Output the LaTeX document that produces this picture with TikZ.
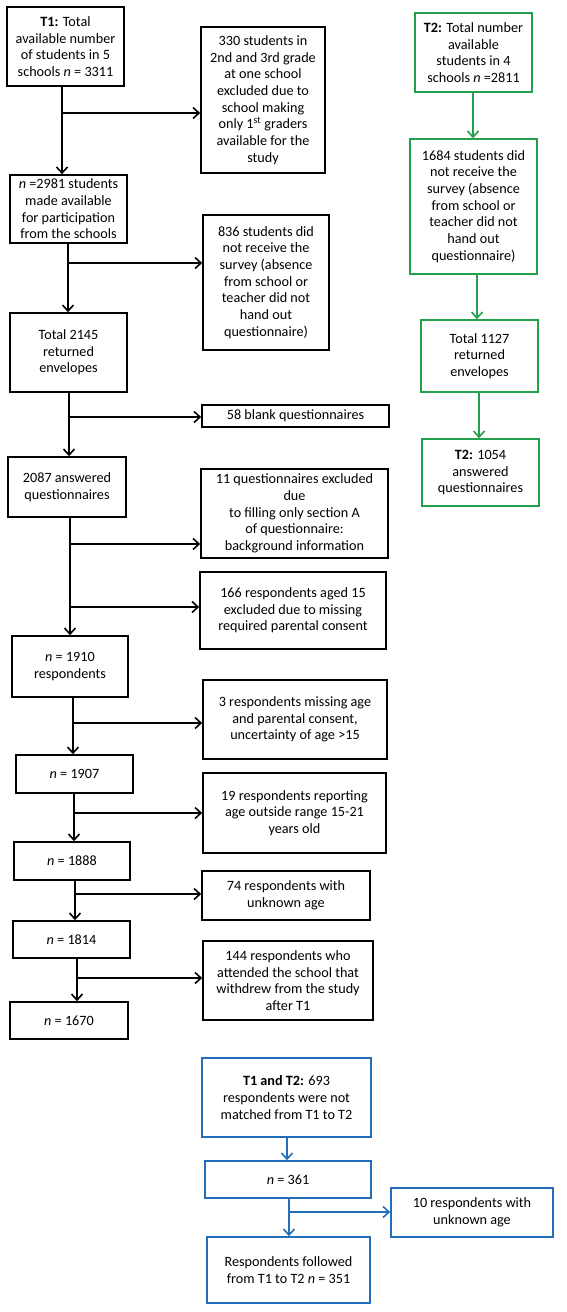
\documentclass[tikz,border=0pt]{standalone}
\usepackage{fontspec}
\setmainfont{Carlito}
\usetikzlibrary{arrows.meta}
\definecolor{flowgreen}{RGB}{35,160,75}
\definecolor{flowblue}{RGB}{35,110,185}
\tikzset{
    box/.style={draw,line width=1.6pt,align=center,inner sep=0pt,
        font=\fontsize{14.2}{16.7}\selectfont},
    gbox/.style={box,draw=flowgreen},
    bbox/.style={box,draw=flowblue},
    arr/.style={line width=1.6pt,-{Straight Barb[length=6pt,width=11pt]}},
    garr/.style={arr,draw=flowgreen},
    barr/.style={arr,draw=flowblue}
}

\begin{document}
\begin{tikzpicture}[x=1pt,y=-1pt]
\useasboundingbox (0,0) rectangle (567,1312);
% T1 column
\node[box,minimum width=117pt,minimum height=79pt] (t1) at (65.5,46.5) {\textbf{T1:} Total\\available number\\of students in 5\\schools \textit{n} = 3311};
\node[box,minimum width=117pt,minimum height=68pt] (avail) at (68.5,209) {\textit{n} =2981 students\\made available\\for participation\\from the schools};
\node[box,minimum width=117pt,minimum height=79pt] (env) at (68.5,352.5) {Total 2145\\returned\\envelopes};
\node[box,minimum width=118pt,minimum height=60pt] (ans) at (67,487) {2087 answered\\questionnaires};
\node[box,minimum width=116pt,minimum height=61pt] (r1910) at (70,666.5) {\textit{n} = 1910\\respondents};
\node[box,minimum width=117pt,minimum height=38pt] (r1907) at (74.5,774) {\textit{n} = 1907};
\node[box,minimum width=116pt,minimum height=38pt] (r1888) at (72,861) {\textit{n} = 1888};
\node[box,minimum width=117pt,minimum height=37pt] (r1814) at (71.5,939.5) {\textit{n} = 1814};
\node[box,minimum width=118pt,minimum height=37pt] (r1670) at (69,1020.5) {\textit{n} = 1670};
% exclusions
\node[box,minimum width=124pt,minimum height=146pt] (excl1) at (263,100) {330 students in\\2nd and 3rd grade\\at one school\\excluded due to\\school making\\only 1\textsuperscript{st} graders\\available for the\\study};
\node[box,minimum width=126pt,minimum height=135pt] (excl2) at (266,282.5) {836 students did\\not receive the\\survey (absence\\from school or\\teacher did not\\hand out\\questionnaire)};
\node[box,minimum width=187pt,minimum height=22pt] (excl3) at (295.5,416) {58 blank questionnaires};
\node[box,minimum width=187pt,minimum height=89pt] (excl4) at (294.5,513.5) {11 questionnaires excluded\\due\\to filling only section A\\of questionnaire:\\background information};
\node[box,minimum width=186pt,minimum height=77pt] (excl5) at (293,610.5) {166 respondents aged 15\\excluded due to missing\\required parental consent};
\node[box,minimum width=184pt,minimum height=79pt] (excl6) at (295,719.5) {3 respondents missing age\\and parental consent,\\uncertainty of age >15};
\node[box,minimum width=183pt,minimum height=80pt] (excl7) at (294.5,813) {19 respondents reporting\\age outside range 15-21\\years old};
\node[box,minimum width=168pt,minimum height=49pt] (excl8) at (286,895.5) {74 respondents with\\unknown age};
\node[box,minimum width=170pt,minimum height=79pt] (excl9) at (288,980.5) {144 respondents who\\attended the school that\\withdrew from the study\\after T1};
% T2 column
\node[gbox,minimum width=117pt,minimum height=79pt] (t2) at (473.5,52.5) {\textbf{T2:} Total number\\available\\students in 4\\schools \textit{n} =2811};
\node[gbox,minimum width=127pt,minimum height=135pt] (g1684) at (473.5,206.5) {1684 students did\\not receive the\\survey (absence\\from school or\\teacher did not\\hand out\\questionnaire)};
\node[gbox,minimum width=117pt,minimum height=72pt] (g1127) at (479.5,356) {Total 1127\\returned\\envelopes};
\node[gbox,minimum width=117pt,minimum height=67pt] (g1054) at (480.5,472.5) {\textbf{T2:} 1054\\answered\\questionnaires};
% matched
\node[bbox,minimum width=169pt,minimum height=79pt] (both) at (286.5,1097.5) {\textbf{T1 and T2:} 693\\respondents were not\\matched from T1 to T2};
\node[bbox,minimum width=166pt,minimum height=37pt] (n361) at (288,1179.5) {\textit{n} = 361};
\node[bbox,minimum width=162pt,minimum height=49pt] (excl10) at (472,1212.5) {10 respondents with\\unknown age};
\node[bbox,minimum width=163pt,minimum height=66pt] (follow) at (288.5,1270) {Respondents followed\\from T1 to T2 \textit{n} = 351};

% branch points
\coordinate (b1) at (62,113);
\coordinate (b2) at (68,263);
\coordinate (b3) at (69,417);
\coordinate (b4) at (70,544);
\coordinate (b5) at (71,607);
\coordinate (b6) at (73,723);
\coordinate (b7) at (74,813);
\coordinate (b8) at (75,894);
\coordinate (b9) at (77,978);
\coordinate (b10) at (289,1212);

% main flow
\draw[arr] (t1.south -| b1) -- (avail.north -| b1);
\draw[arr] (avail.south -| b2) -- (env.north -| b2);
\draw[arr] (env.south -| b3) -- (ans.north -| b3);
\draw[arr] (ans.south -| b4) -- (r1910.north -| b4);
\draw[arr] (r1910.south -| b6) -- (r1907.north -| b6);
\draw[arr] (r1907.south -| b7) -- (r1888.north -| b7);
\draw[arr] (r1888.south -| b8) -- (r1814.north -| b8);
\draw[arr] (r1814.south -| b9) -- (r1670.north -| b9);

% exclusion arrows
\draw[arr] (b1) -- (b1 -| excl1.west);
\draw[arr] (b2) -- (b2 -| excl2.west);
\draw[arr] (b3) -- (b3 -| excl3.west);
\draw[arr] (b4) -- (b4 -| excl4.west);
\draw[arr] (b5) -- (b5 -| excl5.west);
\draw[arr] (b6) -- (b6 -| excl6.west);
\draw[arr] (b7) -- (b7 -| excl7.west);
\draw[arr] (b8) -- (b8 -| excl8.west);
\draw[arr] (b9) -- (b9 -| excl9.west);

% T2 flow
\draw[garr] (t2.south -| 473,0) -- (g1684.north -| 473,0);
\draw[garr] (g1684.south -| 477,0) -- (g1127.north -| 477,0);
\draw[garr] (g1127.south -| 479,0) -- (g1054.north -| 479,0);

% matched flow
\draw[barr] (both.south -| 287,0) -- (n361.north -| 287,0);
\draw[barr] (n361.south -| b10) -- (follow.north -| b10);
\draw[barr] (b10) -- (excl10.west |- b10);
\end{tikzpicture}
\end{document}
